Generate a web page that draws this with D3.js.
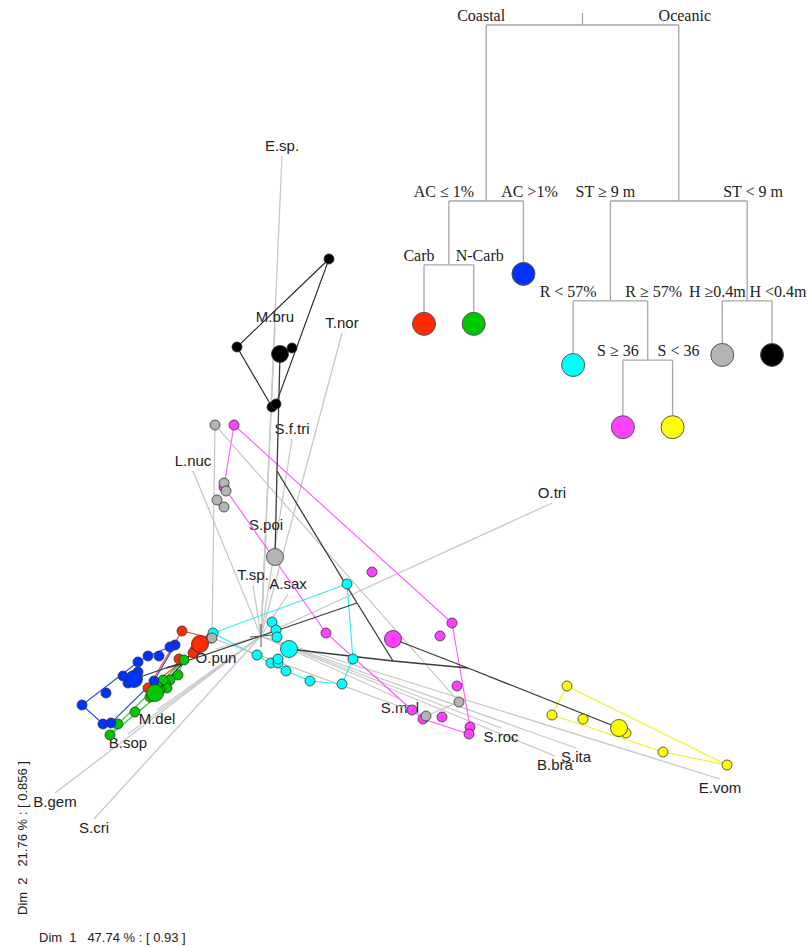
<!DOCTYPE html>
<html lang="en">
<head>
<meta charset="UTF-8">
<title>MFA sites grouped by regression tree</title>
<script src="https://d3js.org/d3.v7.min.js"></script>
<style>
  body { margin: 0; background: #fff; }
  svg { display: block; }
  .sp { font-family: "Liberation Sans", Arial, sans-serif; font-size: 15px; fill: #222; }
  .tree text { font-family: "Liberation Serif", "Times New Roman", serif; font-size: 16px; fill: #222; }
  .axl { font-family: "Liberation Sans", Arial, sans-serif; font-size: 13px; fill: #222; white-space: pre; }
</style>
</head>
<body>
<div id="chart"></div>
<script>
// species arrows, Dim 1 / Dim 2
const species = ["E.sp.", "M.bru", "T.nor", "S.f.tri", "L.nuc", "S.poi", "T.sp.", "A.sax", "O.pun", "O.tri",
                 "S.mul", "S.roc", "B.bra", "S.ita", "E.vom", "M.del", "B.sop", "B.gem", "S.cri"];
const spX = [0.21, 0.14, 0.81, 0.31, -0.68, 0.05, -0.08, 0.27, -0.45, 2.91,
             1.39, 2.40, 2.94, 3.15, 4.59, -1.04, -1.33, -2.06, -1.67];
const spY = [4.80, 3.09, 3.03, 1.97, 1.65, 1.01, 0.51, 0.42, -0.13, 1.33,
             -0.63, -0.92, -1.20, -1.12, -1.43, -0.74, -0.98, -1.57, -1.83];

// groups = leaves of the tree
const groupColors = ["#ff2a00", "#00c800", "#0033ff", "#00ffff", "#ff40ff", "#ffff00", "#b4b4b4", "#000000"];
const hullColors  = ["#ff3a3a", "#22cc22", "#2244ff", "#22eeee", "#ff55ff", "#eeee22", "#c0c0c0", "#222222"];

// site scores
const siteGroup = [0,0,0,0,0,0,
  1,1,1,1,1,1,1,1,1,1,1,1,
  2,2,2,2,2,2,2,2,2,2,2,2,2,
  3,3,3,3,3,3,3,3,3,3,3,3,3,
  4,4,4,4,4,4,4,4,4,4,4,4,
  5,5,5,5,5,5,
  6,6,6,6,6,6,6,6,
  7,7,7,7,7];
const siteX = [-0.79, -0.50, -0.66, -0.68, -0.82, -1.13,
  -0.77, -0.83, -0.91, -0.95, -0.94, -1.01, -1.11, -0.98, -1.26, -1.43, -1.51, -1.04,
  -0.86, -0.91, -1.02, -1.13, -1.23, -1.23, -1.38, -1.33, -1.55, -1.79, -1.58, -1.50, -1.07,
  0.86, -0.48, 0.11, 0.15, 0.16, -0.04, 0.10, 0.17, 0.17, 0.25, 0.49, 0.81, 0.92,
  -0.27, -0.37, 0.65, 1.11, 1.79, 1.91, 1.96, 1.81, 1.62, 1.51, 2.09, 2.08,
  3.06, 2.91, 3.22, 3.65, 4.02, 4.66,
  -0.46, -0.37, -0.35, -0.44, -0.37, -0.49, 1.65, 1.98,
  0.68, -0.24, 0.31, 0.11, 0.15];
const siteY = [0.05, -0.02, -0.14, -0.17, -0.23, -0.52,
  -0.24, -0.39, -0.44, -0.49, -0.52, -0.54, -0.61, -0.44, -0.76, -0.88, -0.99, -0.50,
  -0.09, -0.11, -0.20, -0.20, -0.26, -0.36, -0.40, -0.47, -0.57, -0.69, -0.88, -0.87, -0.45,
  0.52, 0.03, 0.14, 0.06, -0.01, -0.19, -0.27, -0.27, -0.23, -0.35, -0.45, -0.48, -0.23,
  2.11, 1.49, 0.03, 0.64, 0.00, 0.13, -0.50, -0.81, -0.83, -0.74, -0.91, -0.98,
  -0.50, -0.79, -0.83, -0.97, -1.16, -1.29,
  2.11, 1.53, 1.45, 1.36, 1.29, -0.02, -0.80, -0.66,
  3.77, 2.89, 2.88, 2.29, 2.32];

// regression tree
const treeId     = ["root", "coastal", "acLe", "carb", "ncarb", "acGt", "oceanic", "stGe", "rLt", "rGe", "sGe", "sLt", "stLt", "hGe", "hLt"];
const treeParent = ["", "root", "coastal", "acLe", "acLe", "coastal", "root", "oceanic", "stGe", "stGe", "rGe", "rGe", "oceanic", "stLt", "stLt"];
const treeLabel  = ["", "Coastal", "AC \u2264 1%", "Carb", "N-Carb", "AC >1%", "Oceanic", "ST \u2265 9 m", "R < 57%", "R \u2265 57%",
                    "S \u2265 36", "S < 36", "ST < 9 m", "H \u22650.4m", "H <0.4m"];
const treeHeight = [1, 0.581, 0.429, 0.317, 0.317, 0.436, 0.581, 0.343, 0.219, 0.202, 0.071, 0.071, 0.343, 0.243, 0.243];
const treeGroup  = [-1, -1, -1, 0, 1, 2, -1, -1, 3, -1, 4, 5, -1, 6, 7];
// node means in the ordination (leaves = group centroids)
const nodeDim1 = [0, -0.95, -0.79, -0.61, -1.06, -1.27, 0.96, 1.32, 0.28, 2.07, 1.32, 3.58, 0.16, 0.14, 0.19];
const nodeDim2 = [0, -0.32, -0.28, -0.08, -0.57, -0.43, 0.33, -0.25, -0.13, -0.32, -0.03, -0.92, 1.65, 0.79, 2.82];

const W = 810, H = 947;
const x = d3.scaleLinear().domain([-2.61, 5.49]).range([0, W]);
const y = d3.scaleLinear().domain([-3.11, 6.36]).range([H, 0]);

const svg = d3.select("#chart").append("svg")
    .attr("width", W)
    .attr("height", H);

// species arrows + labels
const gA = svg.append("g");
gA.selectAll("line").data(species).join("line")
    .attr("x1", x(0)).attr("y1", y(0))
    .attr("x2", (d, i) => x(spX[i]))
    .attr("y2", (d, i) => y(spY[i]))
    .attr("stroke", "#c8c8c8")
    .attr("stroke-width", 1.3);
gA.selectAll("text").data(species).join("text")
    .attr("class", "sp")
    .attr("x", (d, i) => x(spX[i]))
    .attr("y", (d, i) => spY[i] >= 0 ? y(spY[i]) - 5 : y(spY[i]) + 14)
    .attr("text-anchor", "middle")
    .text(d => d);

// convex hulls
groupColors.forEach((c, k) => {
    const pts = [];
    siteGroup.forEach((g, i) => { if (g === k) pts.push([x(siteX[i]), y(siteY[i])]); });
    const hull = d3.polygonHull(pts);
    svg.append("path")
        .attr("d", "M" + hull.join("L") + "Z")
        .attr("fill", "none")
        .attr("stroke", hullColors[k])
        .attr("stroke-width", 1.1);
});

// tree hierarchy
const nodes = treeId.map((id, i) => ({
    id, parent: treeParent[i], label: treeLabel[i], h: treeHeight[i],
    group: treeGroup[i], d1: nodeDim1[i], d2: nodeDim2[i]
}));
const root = d3.stratify().id(d => d.id).parentId(d => d.parent || null)(nodes);

// tree projected in the ordination
svg.append("g").selectAll("line").data(root.links()).join("line")
    .attr("x1", d => x(d.source.data.d1)).attr("y1", d => y(d.source.data.d2))
    .attr("x2", d => x(d.target.data.d1)).attr("y2", d => y(d.target.data.d2))
    .attr("stroke", "#3a3a3a")
    .attr("stroke-width", 1.3);

// origin cross
svg.append("line").attr("x1", x(0) - 11).attr("x2", x(0) + 11).attr("y1", y(0) + 1).attr("y2", y(0) - 1)
    .attr("stroke", "#555").attr("stroke-width", 1);
svg.append("line").attr("x1", x(0)).attr("x2", x(0)).attr("y1", y(0) - 12).attr("y2", y(0) + 11)
    .attr("stroke", "#555").attr("stroke-width", 1);

// sites
svg.append("g").selectAll("circle").data(siteGroup).join("circle")
    .attr("cx", (d, i) => x(siteX[i]))
    .attr("cy", (d, i) => y(siteY[i]))
    .attr("r", 5)
    .attr("fill", d => groupColors[d])
    .attr("stroke", "#333")
    .attr("stroke-width", 0.8);

// group centroids
svg.append("g").selectAll("circle").data(root.leaves()).join("circle")
    .attr("cx", d => x(d.data.d1))
    .attr("cy", d => y(d.data.d2))
    .attr("r", 8.5)
    .attr("fill", d => groupColors[d.data.group])
    .attr("stroke", "#333")
    .attr("stroke-width", 0.8);

// dendrogram, top right
const treeY = d3.scaleLinear().domain([1, 0]).range([25, 445]);
const leafX = d3.scalePoint().domain(root.leaves().map(d => d.id)).range([424, 772]);
root.eachAfter(d => {
    d.tx = d.children ? d3.mean(d.children, c => c.tx) : leafX(d.id);
    d.ty = treeY(d.data.h);
});

const gT = svg.append("g").attr("class", "tree");
const treeStroke = "#a6a6a6";
gT.append("line")
    .attr("x1", root.tx).attr("x2", root.tx)
    .attr("y1", root.ty - 12).attr("y2", root.ty)
    .attr("stroke", treeStroke).attr("stroke-width", 1.3);
root.descendants().filter(d => d.children).forEach(d => {
    gT.append("line")
        .attr("x1", d.children[0].tx).attr("x2", d.children[d.children.length - 1].tx)
        .attr("y1", d.ty).attr("y2", d.ty)
        .attr("stroke", treeStroke).attr("stroke-width", 1.3);
    d.children.forEach((c, j) => {
        gT.append("line")
            .attr("x1", c.tx).attr("x2", c.tx)
            .attr("y1", d.ty).attr("y2", c.ty)
            .attr("stroke", treeStroke).attr("stroke-width", 1.3);
        gT.append("text")
            .attr("x", c.tx + (j === 0 ? -5 : 6))
            .attr("y", d.ty - 4)
            .attr("text-anchor", "middle")
            .text(c.data.label);
    });
});
gT.selectAll("circle").data(root.leaves()).join("circle")
    .attr("cx", d => d.tx)
    .attr("cy", d => d.ty + 12)
    .attr("r", 11.5)
    .attr("fill", d => groupColors[d.data.group])
    .attr("stroke", "#555")
    .attr("stroke-width", 1);

// axis captions
svg.append("text").attr("class", "axl")
    .attr("x", 39).attr("y", 942)
    .text("Dim  1   47.74 % : [ 0.93 ]");
svg.append("text").attr("class", "axl")
    .attr("transform", "translate(27,915) rotate(-90)")
    .text("Dim  2   21.76 % : [ 0.856 ]");
</script>
</body>
</html>
